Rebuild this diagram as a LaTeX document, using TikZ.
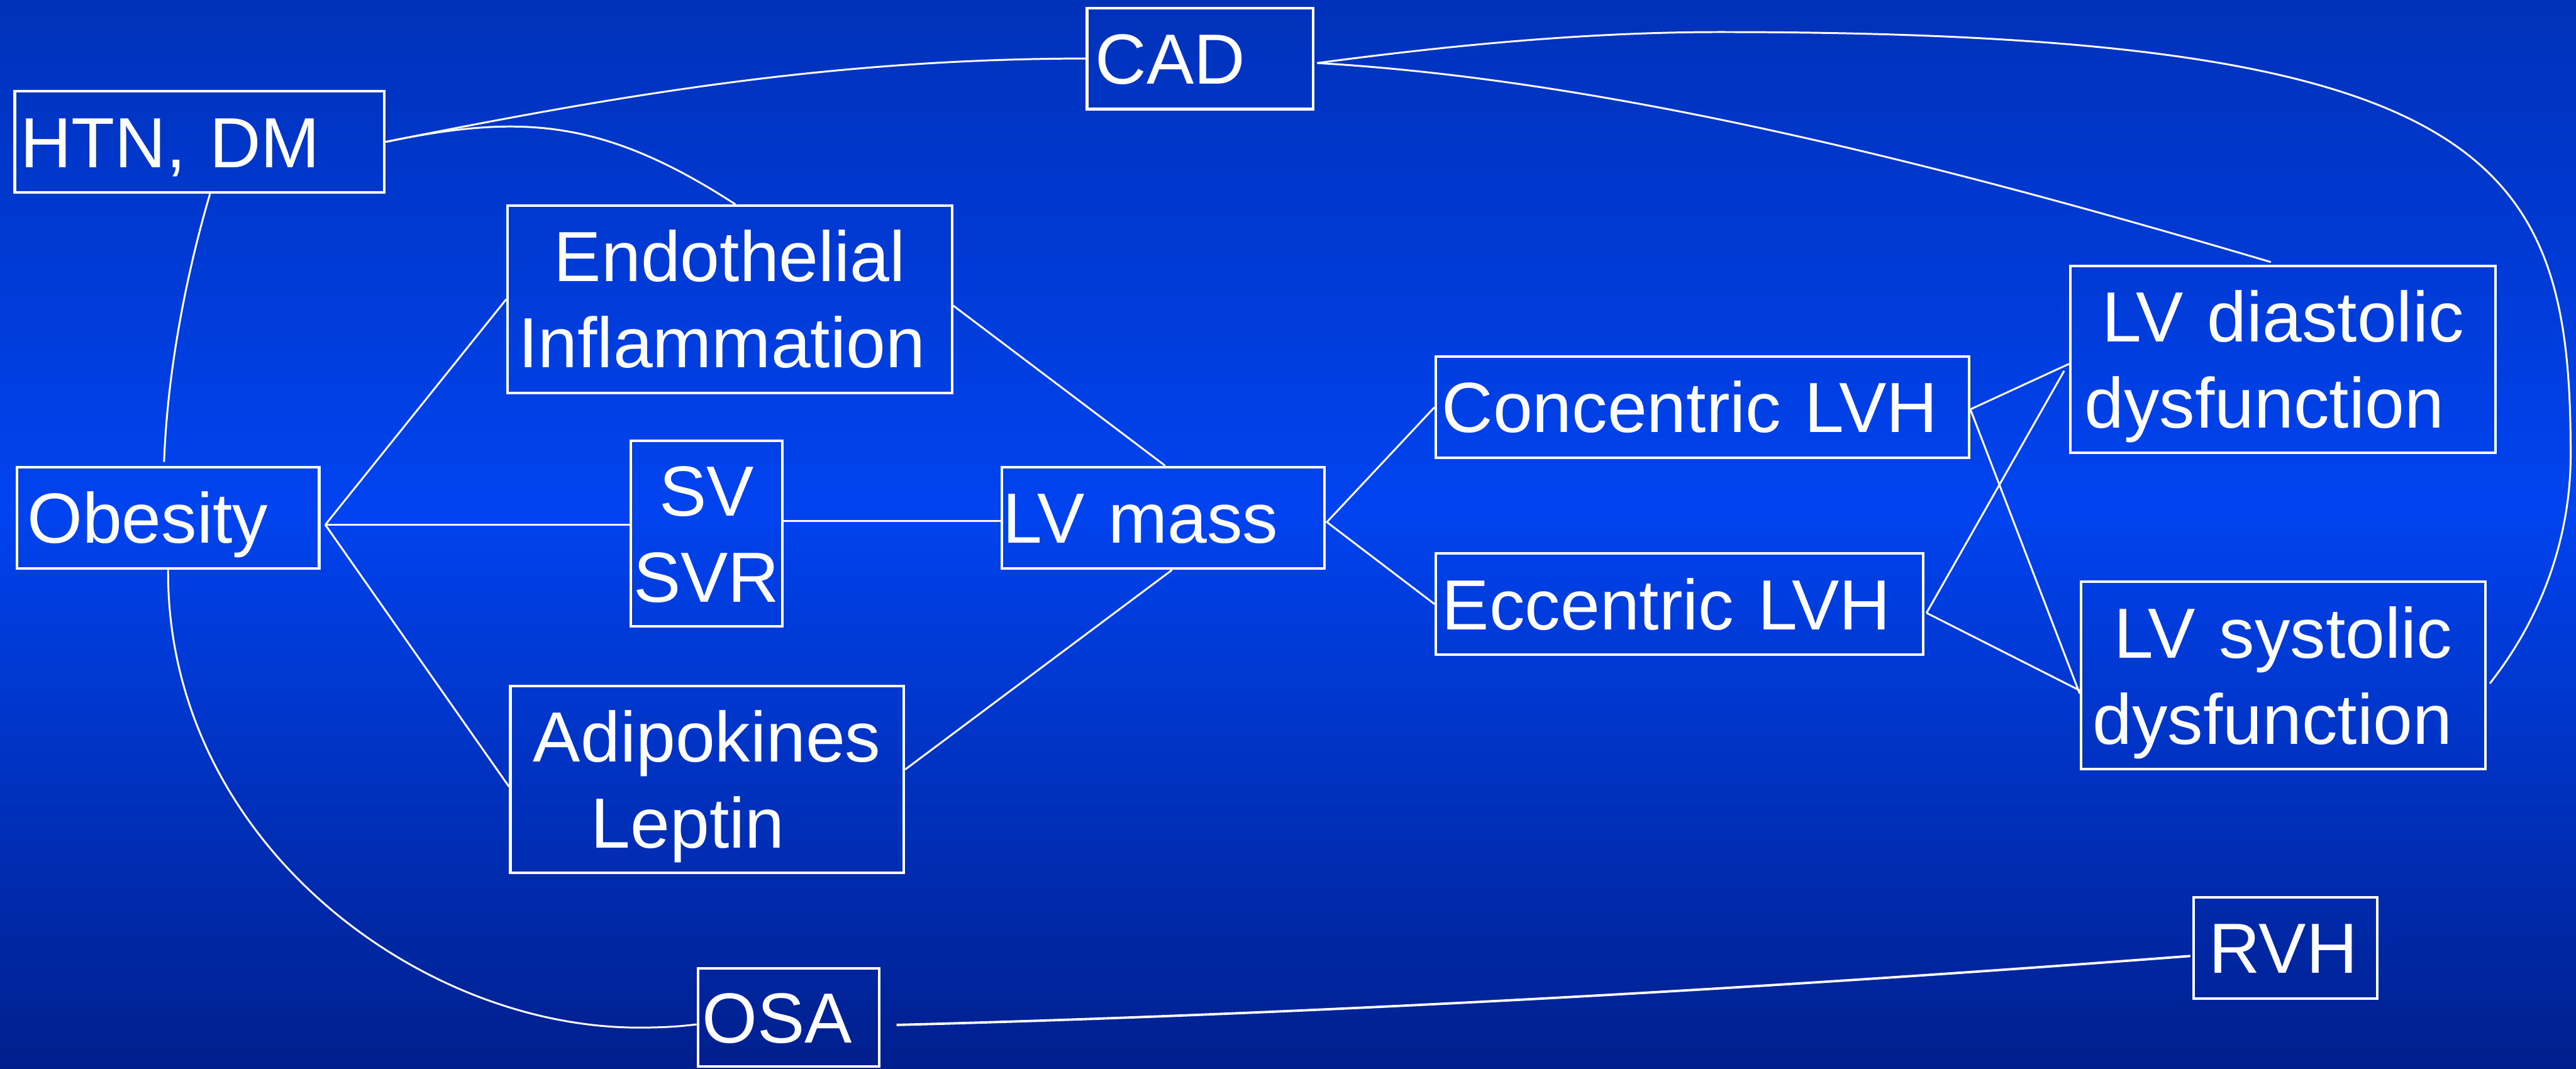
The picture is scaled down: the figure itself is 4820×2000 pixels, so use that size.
\documentclass[tikz,border=0pt]{standalone}
\usepackage{fontspec}
\setmainfont{Liberation Sans}
% strut whose height minus depth equals the cap height, so caps sit centred
\newcommand{\lnstrut}{\rule[-0.214em]{0pt}{1.144em}}
\definecolor{bgtop}{HTML}{0031B9}
\definecolor{bgmid}{HTML}{0043EF}
\definecolor{bgbot}{HTML}{001F8D}

\begin{document}
\begin{tikzpicture}[x=0.01cm,y=-0.01cm,
  box/.style={draw=white, line width=0.05cm, rectangle, inner ysep=0pt,
    text=white, font=\fontsize{37.8pt}{45.8pt}\selectfont},
  lbox/.style={box, align=left},
  cbox/.style={box, align=center, inner xsep=0pt},
  link/.style={draw=white, line width=0.035cm}]

% background
\useasboundingbox (0,0) rectangle (4820,2000);
\shade[top color=bgtop, bottom color=bgmid] (0,0) rectangle (4820,951);
\shade[top color=bgmid, bottom color=bgbot] (0,950) rectangle (4820,2000);

% boxes
\node[lbox, inner xsep=0.10cm, text width=6.71cm, minimum height=1.89cm] (htn) at (373.5,265.5) {\lnstrut HTN, DM};
\node[lbox, inner xsep=0.16cm, text width=3.91cm, minimum height=1.89cm] (cad) at (2245.5,109.5) {\lnstrut CAD};
\node[cbox, text width=8.31cm, minimum height=3.50cm] (endo) at (1365.5,560) {\lnstrut Endothelial\\\lnstrut Inflammation\rule{0.3cm}{0pt}};
\node[lbox, inner xsep=0.19cm, text width=5.27cm, minimum height=1.90cm] (obes) at (314.5,969) {\lnstrut Obesity};
\node[cbox, text width=2.84cm, minimum height=3.47cm] (sv) at (1322,998.5) {\lnstrut SV\\\lnstrut SVR};
\node[lbox, inner xsep=0.02cm, text width=5.99cm, minimum height=1.90cm] (lvm) at (2176.5,969) {\lnstrut LV mass};
\node[cbox, text width=7.36cm, minimum height=3.49cm] (adip) at (1323,1458.5) {\lnstrut Adipokines\\\lnstrut Leptin\rule{0.72cm}{0pt}};
\node[lbox, inner xsep=0.08cm, text width=3.23cm, minimum height=1.84cm] (osa) at (1475.5,1904) {\lnstrut OSA};
\node[lbox, inner xsep=0.11cm, text width=9.75cm, minimum height=1.90cm] (conc) at (3185.5,762) {\lnstrut Concentric LVH};
\node[lbox, inner xsep=0.115cm, text width=8.88cm, minimum height=1.89cm] (ecc) at (3142.5,1130.5) {\lnstrut Eccentric LVH};
\node[cbox, text width=7.95cm, minimum height=3.49cm] (lvd) at (4271.5,672.5) {\lnstrut LV diastolic\\\lnstrut dysfunction\rule{0.7cm}{0pt}};
\node[cbox, text width=7.56cm, minimum height=3.50cm] (lvs) at (4272,1264) {\lnstrut LV systolic\\\lnstrut dysfunction\rule{0.4cm}{0pt}};
\node[lbox, inner xsep=0.28cm, text width=2.87cm, minimum height=1.90cm] (rvh) at (4276.5,1774) {\lnstrut RVH};

% HTN, DM links
\draw[link] (htn.east) .. controls (1150,180) and (1550,110) .. (cad.west);
\draw[link] (htn.east) .. controls (972,214) and (1126,220) .. ([xshift=0.105cm]endo.north);
\draw[link] ([xshift=0.195cm]htn.south) .. controls (348,515) and (313,697) .. ([xshift=-0.075cm,yshift=0.07cm]obes.north);

% obesity fan
\coordinate (obj) at ([xshift=0.09cm,yshift=-0.13cm]obes.east);
\draw[link] (obj) -- (endo.west);
\draw[link] (obj) -- (sv.west |- obj);
\draw[link] (obj) -- ([yshift=-0.135cm]adip.west);

% into LV mass
\coordinate (sve) at ([yshift=0.235cm]sv.east);
\draw[link] (sve) -- (lvm.west |- sve);
\draw[link] ([yshift=-0.12cm]endo.east) -- ([xshift=0.035cm]lvm.north);
\draw[link] ([yshift=0.185cm]adip.east) -- ([xshift=0.165cm]lvm.south);

% LV mass to hypertrophy types
\coordinate (lvj) at ([xshift=0.02cm,yshift=-0.08cm]lvm.east);
\draw[link] (conc.west) -- (lvj) -- (ecc.west);

% hypertrophy to dysfunction (crossing)
\coordinate (cj) at ([yshift=-0.04cm]conc.east);
\draw[link] (cj) -- ([yshift=-0.085cm]lvd.west);
\draw[link] (cj) -- ([yshift=-0.34cm]lvs.west);
\coordinate (ej) at ([xshift=0.04cm,yshift=-0.165cm]ecc.east);
\draw[link] (ej) -- ([xshift=-0.09cm,yshift=-0.215cm]lvd.west);
\draw[link] (ej) -- ([yshift=-0.28cm]lvs.west);

% CAD links
\coordinate (cadr) at ([xshift=0.05cm,yshift=-0.085cm]cad.east);
\draw[link] (cadr) .. controls (3062,152) and (3749,343) .. ([xshift=-0.225cm,yshift=0.05cm]lvd.north);
\draw[link] (cadr) .. controls (2712,85) and (2968,60) .. (3218,60)
  .. controls (4668,60) and (4810,300) .. (4810,850)
  .. controls (4810,1000) and (4760,1150) .. ([xshift=0.06cm,yshift=-0.15cm]lvs.east);

% obesity to OSA to RVH
\draw[link] (obes.south) .. controls (312,1570) and (780,1923) .. (1195,1923)
  .. controls (1240,1923) and (1270,1921) .. ([yshift=-0.13cm]osa.west);
\draw[link, line width=0.045cm] ([xshift=0.3cm,yshift=-0.14cm]osa.east)
  .. controls (2475,1897) and (3301,1850) .. ([xshift=-0.04cm,yshift=-0.15cm]rvh.west);
\end{tikzpicture}
\end{document}
